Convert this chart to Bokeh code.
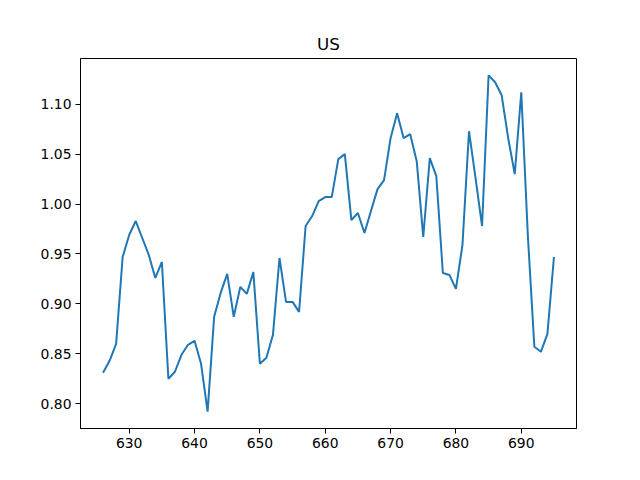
from bokeh.plotting import figure
from bokeh.models import Range1d, FixedTicker, NumeralTickFormatter
from bokeh.embed import file_html
from bokeh.resources import INLINE

years = list(range(626, 696))
values = [
    0.831, 0.843, 0.860, 0.947, 0.969, 0.983, 0.966, 0.949, 0.926, 0.942,
    0.825, 0.832, 0.849, 0.859, 0.863, 0.840, 0.792, 0.887, 0.911, 0.930,
    0.887, 0.917, 0.910, 0.932, 0.840, 0.846, 0.869, 0.946, 0.902, 0.902,
    0.892, 0.978, 0.988, 1.003, 1.007, 1.007, 1.045, 1.050, 0.984, 0.991,
    0.971, 0.993, 1.015, 1.024, 1.066, 1.091, 1.066, 1.070, 1.043, 0.967,
    1.046, 1.028, 0.931, 0.929, 0.915, 0.959, 1.073, 1.026, 0.978, 1.129,
    1.122, 1.109, 1.066, 1.030, 1.112, 0.969, 0.857, 0.852, 0.870, 0.947,
]
title_text = "US"
x_ticks = [630, 640, 650, 660, 670, 680, 690]
y_ticks = [0.80, 0.85, 0.90, 0.95, 1.00, 1.05, 1.10]

xmin, xmax = min(years), max(years)
ymin, ymax = min(values), max(values)
xm = (xmax - xmin) * 0.05
ym = (ymax - ymin) * 0.05

p = figure(width=632, height=472, output_backend="svg", toolbar_location=None,
           x_range=Range1d(xmin - xm, xmax + xm), y_range=Range1d(ymin - ym, ymax + ym),
           min_border_left=80, min_border_right=56, min_border_top=58, min_border_bottom=44)

p.line(years, values, line_color="#1f77b4", line_width=2)

p.title.text = title_text
p.title.align = "center"
p.title.text_font = "DejaVu Sans"
p.title.text_font_size = "16.7px"
p.title.text_font_style = "normal"
p.title.text_color = "black"

p.xgrid.visible = False
p.ygrid.visible = False
p.outline_line_color = "black"
p.outline_line_width = 1
p.outline_line_alpha = 1
p.background_fill_color = "white"
p.border_fill_color = "white"

for ax in (p.xaxis[0], p.yaxis[0]):
    ax.axis_line_color = "black"
    ax.axis_line_width = 1
    ax.major_tick_line_color = "black"
    ax.major_tick_out = 5
    ax.major_tick_in = 0
    ax.minor_tick_line_color = None
    ax.major_label_text_font = "DejaVu Sans"
    ax.major_label_text_font_size = "13.9px"
    ax.major_label_text_color = "black"
    ax.major_label_standoff = 4

p.xaxis.ticker = FixedTicker(ticks=x_ticks)
p.yaxis.ticker = FixedTicker(ticks=y_ticks)
p.yaxis.formatter = NumeralTickFormatter(format="0.00")

open("out.html", "w").write(file_html(p, INLINE))
